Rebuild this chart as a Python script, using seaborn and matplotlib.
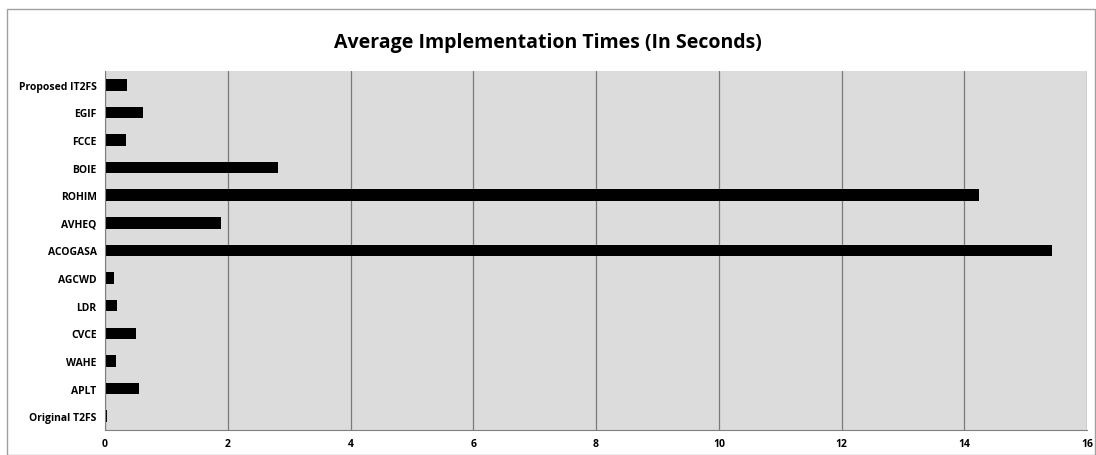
import matplotlib
matplotlib.use('Agg')
import matplotlib.pyplot as plt
import seaborn as sns
import pandas as pd
import numpy as np
from matplotlib.patches import Rectangle

sns.set_style('white')
plt.rcParams['font.family'] = ['Open Sans', 'DejaVu Sans']

# Data (top to bottom)
methods = ['Proposed IT2FS', 'EGIF', 'FCCE', 'BOIE', 'ROHIM', 'AVHEQ', 'ACOGASA',
           'AGCWD', 'LDR', 'CVCE', 'WAHE', 'APLT', 'Original T2FS']
times = [0.36, 0.62, 0.34, 2.82, 14.24, 1.89, 15.42, 0.15, 0.20, 0.51, 0.18, 0.55, 0.04]

df = pd.DataFrame({'Method': methods, 'Time': times})

fig = plt.figure(figsize=(10.96, 4.56), dpi=100)
ax = fig.add_axes([0.0958, 0.055, 0.8962, 0.787])

sns.barplot(data=df, y='Method', x='Time', orient='h', color='black',
            width=0.42, ax=ax, saturation=1, edgecolor='black', linewidth=0)

ax.set_facecolor('#dcdcdc')
ax.set_xlim(0, 16)
ax.set_ylim(len(methods) - 0.5, -0.5)
ax.set_xticks(np.arange(0, 17, 2))
ax.xaxis.grid(True, color='#7a7a7a', linewidth=0.9)
ax.set_axisbelow(True)
ax.set_xlabel('')
ax.set_ylabel('')

for s in ['top', 'right']:
    ax.spines[s].set_visible(False)
ax.spines['left'].set_color('#808080')
ax.spines['bottom'].set_color('#808080')

ax.tick_params(axis='y', which='major', length=0, pad=6, labelsize=7.5, labelcolor='black')
ax.set_yticks(np.arange(-0.5, len(methods), 1), minor=True)
ax.tick_params(axis='y', which='minor', length=4, color='#808080')
ax.tick_params(axis='x', length=0, pad=6, labelsize=7.5, labelcolor='black')
for lbl in ax.get_yticklabels() + ax.get_xticklabels():
    lbl.set_fontweight('bold')

fig.text(0.5, 0.905, 'Average Implementation Times (In Seconds)',
         ha='center', va='center', fontsize=14, fontweight='bold', color='black')

fig.patches.append(Rectangle((0.006, 0.0), 0.993, 0.978, transform=fig.transFigure,
                             fill=False, edgecolor='#a0a0a0', linewidth=1))

plt.savefig('out.png', dpi=100)
